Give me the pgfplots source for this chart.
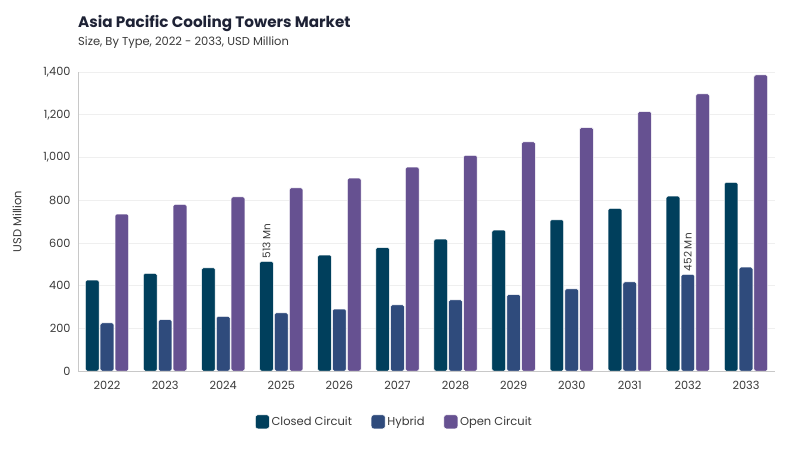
\documentclass[border=0pt]{standalone}
\usepackage{pgfplots}
\pgfplotsset{compat=1.18}
\usepackage{fontspec}
\setmainfont{Poppins}
\definecolor{closedc}{HTML}{003F5C}
\definecolor{hybridc}{HTML}{2F4B7C}
\definecolor{openc}{HTML}{665191}
\definecolor{titlec}{HTML}{1E2235}
\definecolor{textc}{HTML}{3A3A3A}
\definecolor{gridc}{HTML}{EFEFEF}
\definecolor{axisc}{HTML}{C8C8C8}

\begin{document}
\begin{tikzpicture}
\useasboundingbox (0,0) rectangle (800bp,450bp);
\node[anchor=base west, font=\fontsize{15.2bp}{18bp}\selectfont\bfseries, text=titlec, inner sep=0pt] at (78bp,422.5bp) {Asia Pacific Cooling Towers Market};
\node[anchor=base west, font=\fontsize{11.5bp}{13bp}\selectfont, text=textc, inner sep=0pt] at (78bp,404bp) {Size, By Type, 2022 - 2033, USD Million};
\begin{axis}[
    at={(78bp,79bp)}, anchor=south west,
    scale only axis,
    width=697bp, height=299bp,
    ybar, bar width=0.235,
    xmin=-0.5, xmax=11.5,
    ymin=0, ymax=1400,
    ytick={0,200,...,1400},
    xtick={0,...,11},
    xticklabels={2022,2023,2024,2025,2026,2027,2028,2029,2030,2031,2032,2033},
    axis x line*=bottom, axis y line*=left,
    axis line style={axisc, line width=0.8pt},
    major tick length=0pt,
    ymajorgrids, grid style={gridc, line width=0.6pt},
    tick label style={font=\fontsize{11.3bp}{13bp}\selectfont, text=textc},
    /pgf/number format/assume math mode=true,
    /pgf/number format/1000 sep={,},
    yticklabel style={xshift=-4bp},
    xticklabel style={yshift=-7bp},
    ylabel={USD Million},
    ylabel style={font=\fontsize{11.5bp}{13bp}\selectfont, text=textc, yshift=15bp},
    legend style={at={(0.454,-0.17)}, anchor=center, draw=none, legend columns=-1,
        font=\fontsize{11.5bp}{13bp}\selectfont, text=textc,
        /tikz/every even column/.append style={column sep=17bp}},
    legend image code/.code={\fill[#1, rounded corners=2.5bp] (0bp,-7bp) rectangle (14bp,7bp);},
    every axis plot/.append style={draw=white, line width=0.5pt, rounded corners=1.5bp},
]
\addplot[fill=closedc, bar shift=-0.255, draw=white] coordinates {
(0,426) (1,457) (2,483) (3,513) (4,543) (5,578) (6,618) (7,660) (8,708) (9,762) (10,819) (11,883)};
\addplot[fill=hybridc, bar shift=0, draw=white] coordinates {
(0,225) (1,240) (2,256) (3,272) (4,290) (5,310) (6,333) (7,358) (8,385) (9,417) (10,452) (11,486)};
\addplot[fill=openc, bar shift=0.255, draw=white] coordinates {
(0,735) (1,780) (2,815) (3,857) (4,903) (5,955) (6,1010) (7,1073) (8,1140) (9,1215) (10,1297) (11,1386)};
\legend{Closed Circuit, Hybrid, Open Circuit}
\node[rotate=90, anchor=west, font=\fontsize{10.5bp}{12bp}\selectfont, text=textc, inner sep=0pt] at (axis cs:2.745,528) {513 Mn};
\node[rotate=90, anchor=west, font=\fontsize{10.5bp}{12bp}\selectfont, text=textc, inner sep=0pt] at (axis cs:10,467) {452 Mn};
\end{axis}
\end{tikzpicture}
\end{document}
